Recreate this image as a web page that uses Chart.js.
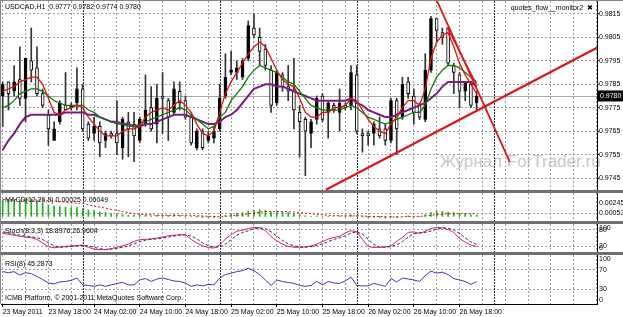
<!DOCTYPE html>
<html>
<head>
<meta charset="utf-8">
<script src="https://cdn.jsdelivr.net/npm/chart.js@4.4.1/dist/chart.umd.min.js"></script>
<style>
  html, body { margin: 0; padding: 0; background: #fff; }
  #wrap { position: relative; width: 623px; height: 317px; overflow: hidden; font-family: "Liberation Sans", Arial, sans-serif; }
  #wrap canvas { position: absolute; left: 0; top: 0; }
  .txt { position: absolute; font-size: 7px; line-height: 9px; color: #000; white-space: nowrap; }
  .sep { position: absolute; left: 0; width: 623px; height: 3px; background: #707070; }
  .wm { position: absolute; left: 440px; top: 152px; font-size: 17px; color: #c8c8c8; white-space: nowrap; }
</style>
</head>
<body>
<div id="wrap">
  <div class="wm">Журнал ForTrader.ru</div>
  <canvas id="cMain" width="623" height="317"></canvas>
  <canvas id="cMacd" width="623" height="317"></canvas>
  <canvas id="cStoch" width="623" height="317"></canvas>
  <canvas id="cRsi" width="623" height="317"></canvas>
  <div class="sep" style="top:190px"></div>
  <div class="sep" style="top:221px"></div>
  <div class="sep" style="top:252px"></div>
  <div style="position:absolute;left:0;top:0;width:623px;height:1px;background:#888"></div>
  <div style="position:absolute;left:0;top:0;width:1px;height:304px;background:#888"></div>
  <div class="txt" style="left:5px;top:2px">USDCAD,H1&nbsp; 0.9777 0.9782 0.9774 0.9780</div>
  <div class="txt" style="right:30px;top:3px">quotes_flow__monitor2 &nbsp;✖</div>
  <div class="txt" style="left:5px;top:195px">MACD(12,26,9) 0.00025 0.00049</div>
  <div class="txt" style="left:5px;top:226px">Stoch(8,3,3) 18.8976 26.9604</div>
  <div class="txt" style="left:5px;top:259px">RSI(8) 45.2873</div>
  <div class="txt" style="left:5px;top:293px">ICMB Platform, © 2001-2011 MetaQuotes Software Corp.</div>
</div>
<script>
// hourly USDCAD bars, 23 May 10:00 -> 26 May 21:00
const open = [0.9780,0.9786,0.9782,0.9787,0.9779,0.9795,0.9792,0.9781,0.9772,0.9761,0.9769,0.9776,0.9775,0.9777,0.9783,0.9768,0.9764,0.9767,0.9761,0.9764,0.9764,0.9758,
  0.9769,0.9768,0.9761,0.9768,0.9775,0.9768,0.9780,0.9778,0.9773,0.9782,0.9778,0.9771,0.9758,0.9765,0.9761,0.9762,0.9766,0.9780,0.9790,0.9790,0.9788,
  0.9796,0.9809,0.9805,0.9800,0.9791,0.9777,0.9789,0.9784,0.9782,0.9773,0.9770,0.9764,0.9770,0.9780,0.9773,0.9776,0.9773,0.9776,0.9776,0.9789,0.9764,
  0.9764,0.9764,0.9766,0.9766,0.9761,0.9778,0.9771,0.9786,0.9780,0.9776,0.9770,0.9791,0.9813,0.9807,0.9809,0.9793,0.9789,0.9782,0.9785,0.9777];
const high = [0.9786,0.9786,0.9793,0.9801,0.9796,0.9809,0.9801,0.9783,0.9774,0.9769,0.9778,0.9790,0.9777,0.9792,0.9785,0.9769,0.9771,0.9769,0.9765,0.9765,0.9778,0.9771,
  0.9773,0.9773,0.9771,0.9789,0.9784,0.9785,0.9790,0.9779,0.9786,0.9786,0.9780,0.9772,0.9766,0.9766,0.9765,0.9767,0.9785,0.9798,0.9799,0.9795,0.9796,
  0.9812,0.9815,0.9809,0.9802,0.9793,0.9791,0.9790,0.9793,0.9796,0.9776,0.9771,0.9770,0.9780,0.9781,0.9778,0.9777,0.9783,0.9777,0.9793,0.9793,0.9766,
  0.9765,0.9769,0.9771,0.9768,0.9779,0.9779,0.9788,0.9788,0.9783,0.9777,0.9798,0.9814,0.9813,0.9809,0.9809,0.9794,0.9790,0.9786,0.9786,0.9782];
const low = [0.9767,0.9774,0.9780,0.9776,0.9769,0.9786,0.9780,0.9775,0.9759,0.9761,0.9768,0.9774,0.9774,0.9774,0.9765,0.9761,0.9761,0.9754,0.9758,0.9762,0.9755,0.9753,
  0.9754,0.9752,0.9760,0.9767,0.9765,0.9760,0.9764,0.9761,0.9772,0.9774,0.9770,0.9759,0.9757,0.9757,0.9760,0.9760,0.9765,0.9779,0.9789,0.9787,0.9787,
  0.9795,0.9805,0.9793,0.9791,0.9773,0.9776,0.9782,0.9778,0.9766,0.9754,0.9746,0.9758,0.9768,0.9769,0.9762,0.9773,0.9765,0.9774,0.9774,0.9764,0.9756,
  0.9759,0.9759,0.9762,0.9759,0.9760,0.9755,0.9770,0.9779,0.9768,0.9770,0.9769,0.9790,0.9803,0.9802,0.9793,0.9781,0.9775,0.9778,0.9775,0.9774];
const close = [0.9785,0.9781,0.9786,0.9779,0.9796,0.9791,0.9781,0.9776,0.9766,0.9766,0.9777,0.9774,0.9776,0.9783,0.9766,0.9762,0.9767,0.9760,0.9764,0.9763,0.9760,0.9770,
  0.9766,0.9763,0.9770,0.9774,0.9766,0.9779,0.9779,0.9771,0.9783,0.9777,0.9771,0.9760,0.9765,0.9758,0.9763,0.9765,0.9779,0.9788,0.9791,0.9792,0.9795,
  0.9810,0.9806,0.9799,0.9793,0.9776,0.9790,0.9784,0.9782,0.9774,0.9769,0.9765,0.9769,0.9779,0.9770,0.9777,0.9774,0.9777,0.9775,0.9790,0.9765,0.9763,
  0.9763,0.9768,0.9763,0.9761,0.9778,0.9766,0.9785,0.9781,0.9773,0.9771,0.9791,0.9813,0.9808,0.9805,0.9794,0.9790,0.9782,0.9786,0.9776,0.9780];

// moving averages
const maFast = [0.9782,0.9783,0.9784,0.9786,0.9787,0.9788,0.9788,0.9785,0.9779,0.9773,0.9772,0.9774,0.9775,0.9776,0.9775,0.9771,0.9768,0.9765,0.9763,0.9763,0.9763,0.9765,
  0.9766,0.9766,0.9767,0.9771,0.9773,0.9774,0.9775,0.9774,0.9776,0.9778,0.9776,0.9773,0.9768,0.9764,0.9763,0.9765,0.9773,0.9781,0.9786,0.9790,0.9794,
  0.9798,0.9801,0.9803,0.9801,0.9796,0.9791,0.9787,0.9785,0.9784,0.9779,0.9773,0.9771,0.9771,0.9773,0.9773,0.9775,0.9775,0.9776,0.9779,0.9778,0.9774,
  0.9770,0.9767,0.9765,0.9764,0.9768,0.9771,0.9775,0.9778,0.9778,0.9776,0.9783,0.9796,0.9803,0.9806,0.9807,0.9801,0.9794,0.9789,0.9785,0.9781];
const maMid = [0.9775,0.9776,0.9778,0.9781,0.9782,0.9783,0.9783,0.9782,0.9780,0.9778,0.9777,0.9776,0.9776,0.9776,0.9776,0.9774,0.9773,0.9771,0.9770,0.9769,0.9768,0.9768,
  0.9767,0.9767,0.9768,0.9769,0.9770,0.9771,0.9772,0.9773,0.9774,0.9775,0.9774,0.9772,0.9770,0.9768,0.9766,0.9767,0.9771,0.9773,0.9778,0.9781,0.9784,
  0.9788,0.9791,0.9793,0.9792,0.9791,0.9790,0.9788,0.9786,0.9785,0.9782,0.9779,0.9776,0.9775,0.9774,0.9774,0.9774,0.9774,0.9775,0.9776,0.9775,0.9773,
  0.9771,0.9770,0.9769,0.9768,0.9769,0.9770,0.9771,0.9772,0.9773,0.9773,0.9776,0.9783,0.9788,0.9791,0.9793,0.9793,0.9792,0.9790,0.9788,0.9786];
const maSlow = [0.9757,0.9761,0.9764,0.9768,0.9771,0.9772,0.9772,0.9772,0.9772,0.9772,0.9772,0.9773,0.9773,0.9773,0.9773,0.9772,0.9772,0.9771,0.9770,0.9769,0.9769,0.9768,
  0.9768,0.9767,0.9767,0.9768,0.9768,0.9769,0.9770,0.9771,0.9772,0.9772,0.9772,0.9771,0.9770,0.9769,0.9768,0.9768,0.9769,0.9771,0.9772,0.9774,0.9777,
  0.9780,0.9783,0.9784,0.9785,0.9785,0.9784,0.9784,0.9783,0.9782,0.9781,0.9780,0.9779,0.9778,0.9778,0.9778,0.9778,0.9778,0.9778,0.9779,0.9777,0.9776,
  0.9774,0.9773,0.9772,0.9771,0.9771,0.9772,0.9773,0.9774,0.9775,0.9776,0.9777,0.9779,0.9781,0.9784,0.9786,0.9786,0.9786,0.9786,0.9786,0.9784];

// hand-drawn trend lines (bar index, price)
const trendUpX = [56.6, 104.4], trendUpY = [0.9740, 0.9801];
const trendDownX = [75.9, 88.8], trendDownY = [0.98214, 0.97519];
const trendDown2X = [77.8, 83.0], trendDown2Y = [0.98093, 0.97849];

// indicators
const macdHist = [0.0030,0.0029,0.0028,0.0028,0.0031,0.0032,0.0029,0.0025,0.0021,0.0019,0.0018,0.0017,0.0016,0.0016,0.0014,0.0012,0.0010,0.0008,0.0007,0.0005,0.0004,0.0003,
  0.0002,0.0002,0.0002,0.0002,0.0001,0.0002,0.0002,0.0002,0.0003,0.0002,0.0001,0.0000,-0.0001,-0.0002,-0.0002,-0.0002,0.0000,0.0002,0.0004,0.0006,0.0007,
  0.0010,0.0011,0.0012,0.0011,0.0008,0.0009,0.0008,0.0007,0.0005,0.0003,0.0001,0.0000,0.0001,0.0000,0.0000,0.0000,0.0001,0.0001,0.0003,0.0001,-0.0001,
  -0.0002,-0.0002,-0.0002,-0.0003,-0.0001,-0.0002,0.0000,0.0001,0.0000,0.0000,0.0003,0.0007,0.0009,0.0009,0.0008,0.0007,0.0006,0.0005,0.0003,0.00025];
const macdSignal = [0.0031,0.0031,0.0031,0.0030,0.0030,0.0030,0.0030,0.0030,0.0029,0.0028,0.0027,0.0026,0.0025,0.0024,0.0024,0.0021,0.0019,0.0017,0.0015,0.0013,0.0011,0.0009,
  0.0007,0.0005,0.0004,0.0003,0.0003,0.0002,0.0002,0.0002,0.0002,0.0002,0.0002,0.0002,0.0001,0.0001,0.0000,0.0000,-0.0001,0.0000,0.0001,0.0002,0.0003,
  0.0005,0.0006,0.0008,0.0009,0.0009,0.0009,0.0009,0.0009,0.0008,0.0007,0.0006,0.0005,0.0004,0.0003,0.0002,0.0002,0.0001,0.0001,0.0001,0.0001,0.0001,
  0.0000,0.0000,0.0000,-0.0001,-0.0001,-0.0001,-0.0001,0.0000,0.0000,0.0000,0.0001,0.0002,0.0003,0.0004,0.0005,0.0005,0.0005,0.0005,0.0005,0.00049];
const stochMain = [67,63,60,56,53,51,45,32,19,15,18,20,22,23,25,17,10,8,9,12,17,22,
  28,38,44,45,47,50,53,58,60,62,62,45,32,22,16,14,25,46,62,74,78,
  84,88,86,76,55,40,28,20,17,17,18,22,28,38,46,52,56,68,76,72,45,
  20,16,17,18,22,38,52,70,72,66,74,84,88,86,80,70,48,35,25,18.9];
const stochSignal = [72,68,64,60,57,54,51,44,33,22,17,18,20,22,23,22,17,12,9,10,13,17,
  22,29,37,42,45,47,50,53,57,60,61,57,47,33,23,17,18,28,44,60,70,
  76,83,86,84,72,57,41,29,22,18,17,19,23,29,37,45,51,58,67,72,64,
  46,27,18,17,19,26,37,53,65,69,70,75,82,86,85,79,66,51,36,27];
const rsi = [66,64,66,59,64,62,56,50,43,41,45,46,48,53,39,38,36,39,36,39,42,44,
  39,39,49,52,46,51,53,50,47,46,43,36,39,37,40,39,53,60,63,66,68,
  73,68,60,49,38,49,46,44,42,38,36,38,46,39,46,43,42,47,55,38,37,
  37,42,39,36,52,45,53,51,49,46,58,67,63,65,60,52,49,46,40,45.29];

// axis labels
const timeLabels = ["23 May 2011","23 May 18:00","24 May 02:00","24 May 10:00","24 May 18:00","25 May 02:00",
  "25 May 10:00","25 May 18:00","26 May 02:00","26 May 10:00","26 May 18:00"];
const priceTicks = [0.9745,0.9755,0.9765,0.9775,0.9785,0.9795,0.9805,0.9815];
const macdTicks = [0.00245, 0.00053];
const stochTicks = [100, 80, 20, 0];
const rsiTicks = [100, 70, 30, 0];
const daySep = [14, 38, 62, 86];

const labelIdx = timeLabels.map((_, k) => k * 8);
const gridIdx = Array.from({ length: 27 }, (_, k) => k * 4);

const X_MIN = -0.3, X_MAX = 104.08, AXIS_W = 26;
const GRID = '#a0a0a0';
const FONT = '7px "Liberation Sans", Arial, sans-serif';
Chart.defaults.font.family = '"Liberation Sans", Arial, sans-serif';
Chart.defaults.font.size = 7;

const xy = arr => arr.map((v, i) => ({ x: i, y: v }));
const pts = (xs, ys) => xs.map((x, i) => ({ x, y: ys[i] }));

const mt4 = {
  id: 'mt4',
  beforeDatasetsDraw(chart, args, o) {
    const { ctx, chartArea: a, scales: { x, y } } = chart;
    ctx.save();
    ctx.strokeStyle = '#303030';
    ctx.lineWidth = 1;
    ctx.setLineDash([2, 1]);
    daySep.forEach(d => {
      const px = Math.round(x.getPixelForValue(d)) + 0.5;
      ctx.beginPath(); ctx.moveTo(px, a.top); ctx.lineTo(px, a.bottom); ctx.stroke();
    });
    if (o.price != null) {
      ctx.setLineDash([]);
      ctx.strokeStyle = '#a8a8a8';
      const py = Math.round(y.getPixelForValue(o.price)) + 0.5;
      ctx.beginPath(); ctx.moveTo(a.left, py); ctx.lineTo(a.right, py); ctx.stroke();
    }
    ctx.restore();
  },
  afterDraw(chart, args, o) {
    const { ctx, chartArea: a, scales: { y } } = chart;
    ctx.save();
    ctx.font = FONT;
    ctx.textBaseline = 'middle';
    ctx.fillStyle = '#000';
    (o.labels || []).forEach(([v, t]) => {
      const py = Math.min(Math.max(y.getPixelForValue(v), a.top + 4), a.bottom - 4);
      ctx.fillText(t, a.right + 2, py);
    });
    if (o.price != null) {
      const py = y.getPixelForValue(o.price);
      ctx.fillRect(a.right + 1, py - 5.5, 26, 11);
      ctx.fillStyle = '#fff';
      ctx.fillText(o.price.toFixed(4), a.right + 3, py);
    }
    ctx.restore();
  }
};

function xAxis(labels) {
  return {
    type: 'linear', min: X_MIN, max: X_MAX, offset: false, bounds: 'data',
    afterBuildTicks: s => { s.ticks = gridIdx.map(v => ({ value: v })); },
    afterFit: s => { s.height = labels ? 13 : 0; },
    ticks: {
      display: labels, autoSkip: false, maxRotation: 0, minRotation: 0, align: 'start', padding: 1, color: '#000',
      callback: v => { const k = labelIdx.indexOf(v); return k >= 0 ? timeLabels[k] : ''; }
    },
    grid: {
      color: GRID, offset: false, drawTicks: labels, tickLength: 3,
      tickColor: c => (c.tick && labelIdx.includes(c.tick.value)) ? '#000' : 'rgba(0,0,0,0)'
    },
    border: { display: labels, color: '#000', dash: [2, 2] }
  };
}

function yAxis(min, max, ticks, gridAt, marks) {
  return {
    position: 'right', min, max,
    afterFit: s => { s.width = AXIS_W; },
    afterBuildTicks: s => { s.ticks = ticks.map(v => ({ value: v })); },
    ticks: { display: false },
    grid: {
      color: c => (c.tick && gridAt.includes(c.tick.value)) ? GRID : 'rgba(0,0,0,0)',
      drawTicks: marks, tickLength: 2, tickColor: '#000'
    },
    border: { color: '#000', dash: [2, 2] }
  };
}

const base = (top, bottom) => ({
  responsive: false, animation: false, events: [],
  layout: { padding: { top, bottom: 317 - bottom, left: 1, right: 0 } },
  plugins: { legend: { display: false }, tooltip: { enabled: false } }
});

const idx = open.map((_, i) => i);
const bull = idx.map(i => close[i] >= open[i]);

// price window
new Chart(document.getElementById('cMain'), {
  type: 'bar',
  data: {
    datasets: [
      { type: 'line', data: pts(trendUpX, trendUpY), borderColor: '#dd1515', borderWidth: 2.2, pointRadius: 0, order: 0 },
      { type: 'line', data: pts(trendDownX, trendDownY), borderColor: '#dd1515', borderWidth: 1.8, pointRadius: 0, order: 0 },
      { type: 'line', data: pts(trendDown2X, trendDown2Y), borderColor: '#dd1515', borderWidth: 1.3, pointRadius: 0, order: 0 },
      { type: 'line', data: xy(maFast), borderColor: '#e01010', borderWidth: 1.3, pointRadius: 0, order: 1 },
      { type: 'line', data: xy(maMid), borderColor: '#0a7a0a', borderWidth: 1.3, pointRadius: 0, order: 2 },
      { type: 'line', data: xy(maSlow), borderColor: '#7a1a82', borderWidth: 2, pointRadius: 0, order: 3 },
      { data: idx.map(i => ({ x: i, y: [open[i], close[i]] })), barThickness: 3, grouped: false,
        backgroundColor: bull.map(b => b ? '#000' : '#fff'), borderColor: '#000', borderWidth: 1, borderSkipped: false, order: 4 },
      { data: idx.map(i => ({ x: i, y: [low[i], high[i]] })), barThickness: 1, grouped: false,
        backgroundColor: '#333', order: 5 }
    ]
  },
  options: {
    ...base(1, 190),
    scales: {
      x: xAxis(false),
      y: yAxis(0.97399, 0.98205, priceTicks, priceTicks, true)
    },
    plugins: {
      legend: { display: false }, tooltip: { enabled: false },
      mt4: { labels: priceTicks.map(v => [v, v.toFixed(4)]), price: close[close.length - 1] }
    }
  },
  plugins: [mt4]
});

// MACD window
new Chart(document.getElementById('cMacd'), {
  type: 'bar',
  data: {
    datasets: [
      { type: 'line', data: xy(macdSignal), borderColor: '#e01010', borderWidth: 1, borderDash: [2, 2], pointRadius: 0, order: 0 },
      { data: xy(macdHist), barThickness: 1, grouped: false, backgroundColor: '#1fae1f', order: 1 }
    ]
  },
  options: {
    ...base(193, 221),
    scales: { x: xAxis(false), y: yAxis(-0.00084, 0.00428, macdTicks, [0.00053], false) },
    plugins: {
      legend: { display: false }, tooltip: { enabled: false },
      mt4: { labels: macdTicks.map(v => [v, v.toFixed(5)]) }
    }
  },
  plugins: [mt4]
});

// Stochastic window
new Chart(document.getElementById('cStoch'), {
  type: 'line',
  data: {
    datasets: [
      { data: xy(stochSignal), borderColor: '#26268c', borderWidth: 1, borderDash: [3, 2], pointRadius: 0 },
      { data: xy(stochMain), borderColor: '#e8204a', borderWidth: 1, pointRadius: 0 }
    ]
  },
  options: {
    ...base(224, 252),
    scales: { x: xAxis(false), y: yAxis(0, 100, stochTicks, [80, 20], false) },
    plugins: {
      legend: { display: false }, tooltip: { enabled: false },
      mt4: { labels: stochTicks.map(v => [v, String(v)]) }
    }
  },
  plugins: [mt4]
});

// RSI window with the time axis
new Chart(document.getElementById('cRsi'), {
  type: 'line',
  data: {
    datasets: [
      { data: xy(rsi), borderColor: '#3040b0', borderWidth: 1, pointRadius: 0 }
    ]
  },
  options: {
    ...base(255, 317),
    scales: { x: xAxis(true), y: yAxis(0, 100, rsiTicks, [70, 30], false) },
    plugins: {
      legend: { display: false }, tooltip: { enabled: false },
      mt4: { labels: rsiTicks.map(v => [v, String(v)]) }
    }
  },
  plugins: [mt4]
});
</script>
</body>
</html>
